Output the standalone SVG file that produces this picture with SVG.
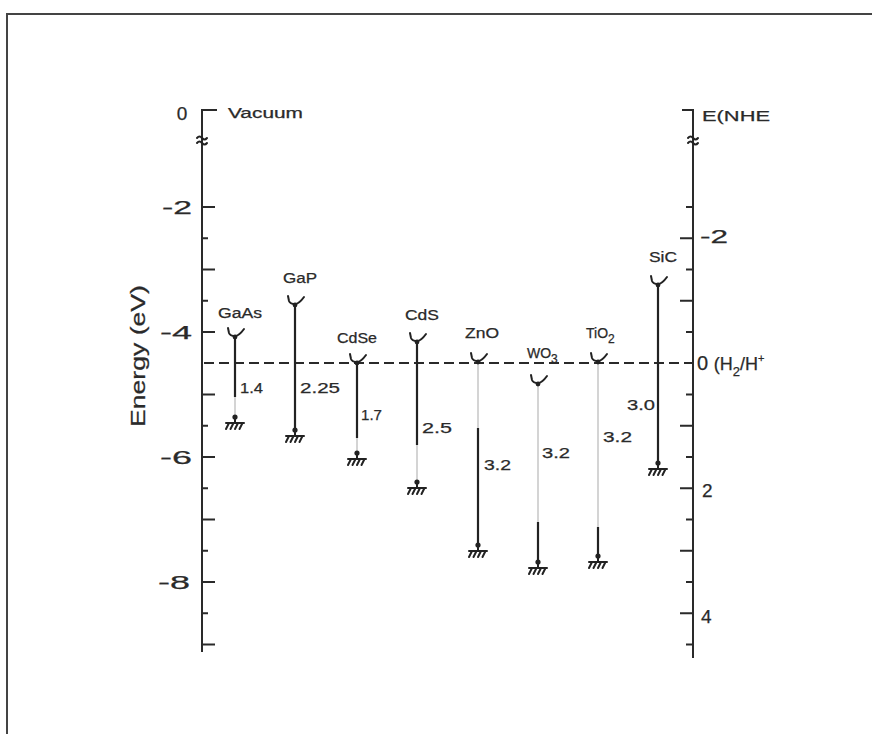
<svg xmlns="http://www.w3.org/2000/svg" width="872" height="734" viewBox="0 0 872 734">
<style>
.t{font-family:"Liberation Sans","DejaVu Sans",sans-serif;fill:#2a2a2a;stroke:#2a2a2a;stroke-width:0.25}
.ax{stroke:#2a2a2a;stroke-width:2;fill:none}
.tk{stroke:#2a2a2a;stroke-width:2}
.band{stroke:#222;stroke-width:2.2}
.faint{stroke:#b8b8b8;stroke-width:1.2}
.sym{stroke:#222;stroke-width:2;fill:none;stroke-linecap:round}
.dot{fill:#222}
</style>
<defs>
<g id="cup"><path class="sym" d="M-7,-9 L-6,-4 Q-5,-1 0,-1 Q4,-1 9,-8"/><circle class="dot" cx="0" cy="0" r="2.4"/></g>
<g id="gnd"><circle class="dot" cx="0" cy="0" r="2.6"/><path class="sym" stroke-width="1.8" d="M0,0 V6 M-9,6 H9 M-6,6 L-9,12 M-1.5,6 L-4.5,12 M3,6 L0,12 M7.5,6 L4.5,12"/></g>
</defs>
<rect width="872" height="734" fill="#fff"/>
<g id="frame"><path d="M7,734 V14 H872" stroke="#444" stroke-width="2" fill="none"/></g>

<g id="left-axis">
<path class="ax" d="M217,110 H202 V652"/>
<path class="sym" stroke-width="1.6" d="M197,138 q2.5,-3 5,0 t5,0 M197,143 q2.5,-3 5,0 t5,0"/>
<path class="tk" d="M202,207 h13 M202,238.3 h6 M202,269.5 h13 M202,300.8 h6 M202,332 h13 M202,394.5 h13 M202,425.8 h6 M202,457 h13 M202,488.3 h6 M202,519.5 h13 M202,550.8 h6 M202,582 h13 M202,613.3 h6 M202,644.5 h13"/>
<text class="t" x="182" y="120" font-size="19" text-anchor="middle">0</text>
<text class="t" x="192" y="214" font-size="19" text-anchor="end" textLength="30" lengthAdjust="spacingAndGlyphs">-2</text>
<text class="t" x="192" y="339" font-size="19" text-anchor="end" textLength="32" lengthAdjust="spacingAndGlyphs">-4</text>
<text class="t" x="192" y="464" font-size="19" text-anchor="end" textLength="32" lengthAdjust="spacingAndGlyphs">-6</text>
<text class="t" x="190" y="589" font-size="19" text-anchor="end" textLength="32" lengthAdjust="spacingAndGlyphs">-8</text>
<text class="t" x="228" y="118" font-size="14" textLength="75" lengthAdjust="spacingAndGlyphs">Vacuum</text>
<text class="t" font-size="20" text-anchor="middle" transform="translate(145,356) rotate(-90)" textLength="142" lengthAdjust="spacingAndGlyphs">Energy (eV)</text>
</g>

<g id="right-axis">
<path class="ax" d="M682,110 H693 V658"/>
<path class="sym" stroke-width="1.6" d="M688,138 q2.5,-3 5,0 t5,0 M688,143 q2.5,-3 5,0 t5,0"/>
<path class="tk" d="M693,207 h-7 M693,238.3 h-13 M693,269.5 h-7 M693,300.8 h-13 M693,332 h-7 M693,394.5 h-7 M693,425.8 h-13 M693,457 h-7 M693,488.3 h-13 M693,519.5 h-7 M693,550.8 h-13 M693,582 h-7 M693,613.3 h-13 M693,644.5 h-7"/>
<text class="t" x="702" y="121" font-size="15" textLength="68" lengthAdjust="spacingAndGlyphs">E(NHE</text>
<text class="t" x="700" y="243" font-size="19" textLength="28" lengthAdjust="spacingAndGlyphs">-2</text>
<text class="t" x="697" y="370" font-size="20">0 <tspan font-size="18">(H</tspan><tspan font-size="13" dy="6">2</tspan><tspan font-size="18" dy="-6">/H</tspan><tspan font-size="11" dy="-8">+</tspan></text>
<text class="t" x="702" y="497" font-size="19">2</text>
<text class="t" x="701" y="623" font-size="19">4</text>
</g>

<g id="connectors">
<line x1="204" y1="363" x2="692" y2="363" stroke="#2a2a2a" stroke-width="2" stroke-dasharray="10 5"/>
</g>

<g id="GaAs">
<line class="faint" x1="235" y1="337" x2="235" y2="417"/>
<line class="band" x1="235" y1="337" x2="235" y2="397"/>
<use href="#cup" x="235" y="337"/><use href="#gnd" x="235" y="417"/>
<text class="t" x="240" y="318" font-size="14" text-anchor="middle" textLength="44" lengthAdjust="spacingAndGlyphs">GaAs</text>
<text class="t" x="240" y="393" font-size="15" textLength="23" lengthAdjust="spacingAndGlyphs">1.4</text>
</g>
<g id="GaP">
<line class="band" x1="295" y1="305" x2="295" y2="430"/>
<use href="#cup" x="295" y="305"/><use href="#gnd" x="295" y="430"/>
<text class="t" x="300" y="283" font-size="14" text-anchor="middle" textLength="34" lengthAdjust="spacingAndGlyphs">GaP</text>
<text class="t" x="300" y="393" font-size="15" textLength="40" lengthAdjust="spacingAndGlyphs">2.25</text>
</g>
<g id="CdSe">
<line class="faint" x1="357" y1="363" x2="357" y2="453"/>
<line class="band" x1="357" y1="363" x2="357" y2="438"/>
<use href="#cup" x="357" y="363"/><use href="#gnd" x="357" y="453"/>
<text class="t" x="357" y="343" font-size="14" text-anchor="middle" textLength="40" lengthAdjust="spacingAndGlyphs">CdSe</text>
<text class="t" x="361" y="420" font-size="15" textLength="21" lengthAdjust="spacingAndGlyphs">1.7</text>
</g>
<g id="CdS">
<line class="faint" x1="417" y1="342" x2="417" y2="482"/>
<line class="band" x1="417" y1="342" x2="417" y2="445"/>
<use href="#cup" x="417" y="342"/><use href="#gnd" x="417" y="482"/>
<text class="t" x="422" y="320" font-size="15" text-anchor="middle" textLength="34" lengthAdjust="spacingAndGlyphs">CdS</text>
<text class="t" x="422" y="433" font-size="15" textLength="30" lengthAdjust="spacingAndGlyphs">2.5</text>
</g>
<g id="ZnO">
<line class="faint" x1="478" y1="362" x2="478" y2="545"/>
<line class="band" x1="478" y1="428" x2="478" y2="545"/>
<use href="#cup" x="478" y="362"/><use href="#gnd" x="478" y="545"/>
<text class="t" x="482" y="338" font-size="14" text-anchor="middle" textLength="34" lengthAdjust="spacingAndGlyphs">ZnO</text>
<text class="t" x="484" y="470" font-size="15" textLength="27" lengthAdjust="spacingAndGlyphs">3.2</text>
</g>
<g id="WO3">
<line class="faint" x1="538" y1="384" x2="538" y2="562"/>
<line class="band" x1="538" y1="522" x2="538" y2="562"/>
<use href="#cup" x="538" y="384"/><use href="#gnd" x="538" y="562"/>
<text class="t" x="527" y="358" font-size="14">WO<tspan font-size="12" dy="5">3</tspan></text>
<text class="t" x="542" y="458" font-size="15" textLength="28" lengthAdjust="spacingAndGlyphs">3.2</text>
</g>
<g id="TiO2">
<line class="faint" x1="598" y1="362" x2="598" y2="556"/>
<line class="band" x1="598" y1="527" x2="598" y2="556"/>
<use href="#cup" x="598" y="362"/><use href="#gnd" x="598" y="556"/>
<text class="t" x="586" y="338" font-size="14">TiO<tspan font-size="12" dy="5">2</tspan></text>
<text class="t" x="603" y="442" font-size="15" textLength="29" lengthAdjust="spacingAndGlyphs">3.2</text>
</g>
<g id="SiC">
<line class="band" x1="658" y1="285" x2="658" y2="463"/>
<use href="#cup" x="658" y="285"/><use href="#gnd" x="658" y="463"/>
<text class="t" x="663" y="262" font-size="14" text-anchor="middle" textLength="28" lengthAdjust="spacingAndGlyphs">SiC</text>
<text class="t" x="627" y="410" font-size="15" textLength="28" lengthAdjust="spacingAndGlyphs">3.0</text>
</g>
</svg>
